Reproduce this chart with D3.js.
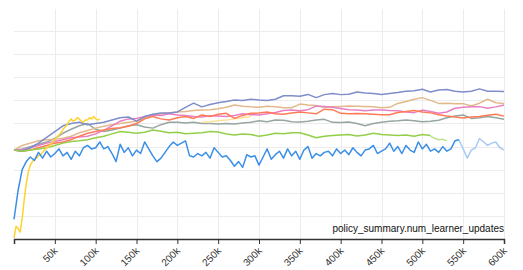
<!DOCTYPE html>
<html>
<head>
<meta charset="utf-8">
<script src="https://cdn.jsdelivr.net/npm/d3@7"></script>
<style>
  body { margin: 0; background: #fff; }
  svg { font-family: "Liberation Sans", Arial, sans-serif; }
</style>
</head>
<body>
<svg width="523" height="270"></svg>
<script>
// x values are in thousands of learner updates, y in arbitrary units (no y labels shown)
var xTicks = [50, 100, 150, 200, 250, 300, 350, 400, 450, 500, 550, 600];
var yTicks = [1, 2, 3, 4, 5, 6, 7, 8, 9];

// blue run, every 5k from 0 to 545k
var blueVals = [0.85, 2.1, 3.0, 3.35, 3.55, 3.4, 3.75, 3.5, 3.8, 3.55,
  3.7, 3.9, 3.6, 3.75, 3.45, 3.8, 3.6, 3.95, 4.05, 3.9,
  3.95, 4.2, 3.9, 4.0, 3.7, 3.35, 4.1, 3.75, 3.95, 3.6,
  3.85, 3.7, 4.2, 3.9, 3.6, 3.35, 3.5, 3.75, 4.0, 4.2,
  4.05, 4.15, 4.25, 3.6, 3.55, 3.7, 3.6, 3.75, 3.5, 3.95,
  3.75, 3.55, 3.6, 3.4, 3.15, 3.35, 3.1, 3.65, 3.55, 3.6,
  3.2, 3.55, 3.9, 3.45, 3.65, 3.8, 3.5, 3.9, 3.6, 3.8,
  3.45, 3.85, 4.0, 3.5, 3.7, 3.6, 3.75, 3.8, 3.6, 3.9,
  3.7, 3.85, 3.65, 3.95, 3.75, 3.6, 3.85, 3.9, 4.05, 3.7,
  3.8, 3.9, 4.15, 3.8, 4.0, 3.7, 4.05, 3.85, 3.75, 4.2,
  3.9, 4.1, 3.8, 3.9, 3.75, 4.0, 3.8, 3.9, 4.25, 4.3];
// light blue run, every 5k from 545k to 600k
var lightBlueVals = [4.28, 3.9, 3.5, 3.85, 3.95, 4.35, 4.2, 4.05, 4.15, 4.2, 3.95, 3.85];

// yellow run, every 2.5k from 0 to 105k
var yellowVals = [0.05, 0.55, 0.45, 0.3, 0.9, 1.7, 2.4, 2.9, 3.2, 3.35,
  3.45, 3.5, 3.6, 3.65, 3.75, 3.85, 3.95, 4.0, 4.1, 4.2,
  4.3, 4.4, 4.5, 4.6, 4.75, 4.85, 4.95, 5.1, 5.2, 5.1,
  5.15, 5.25, 5.2, 5.1, 5.05, 5.15, 5.15, 5.25, 5.2, 5.3,
  5.2, 5.15, 5.2];
// pale yellow run, every 10k from 230k to 290k
var paleYellowVals = [5.05, 5.08, 5.12, 5.15, 5.2, 5.25, 5.3];

// smooth runs, every 10k from 0 to 600k
var purpleVals = [3.85, 3.8, 3.95, 4.15, 4.4, 4.65, 4.9, 5.0, 5.05, 4.95,
  5.0, 5.05, 5.15, 5.25, 5.28, 5.1, 5.3, 5.4, 5.45, 5.45,
  5.5, 5.7, 5.88, 5.72, 5.82, 5.9, 5.95, 6.02, 6.0, 6.05,
  6.02, 6.0, 6.05, 6.2, 6.2, 6.18, 6.26, 6.12, 6.25, 6.3,
  6.25, 6.27, 6.36, 6.32, 6.3, 6.26, 6.3, 6.34, 6.4, 6.42,
  6.48, 6.36, 6.45, 6.47, 6.4, 6.36, 6.4, 6.5, 6.4, 6.4, 6.38];
var tanVals = [3.85, 4.05, 4.15, 4.25, 4.3, 4.32, 4.36, 4.45, 4.6, 4.7,
  4.8, 4.88, 4.95, 5.0, 5.05, 5.1, 5.25, 5.35, 5.42, 5.45,
  5.5, 5.52, 5.56, 5.58, 5.6, 5.64, 5.7, 5.8, 5.75, 5.72,
  5.7, 5.75, 5.72, 5.68, 5.68, 5.84, 5.8, 5.78, 5.7, 5.72,
  5.74, 5.76, 5.75, 5.74, 5.72, 5.68, 5.7, 5.87, 5.95, 6.05,
  6.12, 6.0, 5.87, 5.88, 5.86, 5.86, 5.76, 5.88, 6.05, 5.9, 5.87];
var pinkVals = [3.85, 3.85, 3.95, 4.05, 4.15, 4.22, 4.3, 4.38, 4.42, 4.45,
  4.55, 4.7, 4.9, 5.1, 5.2, 5.22, 5.3, 5.37, 5.35, 5.42,
  5.37, 5.35, 5.3, 5.28, 5.34, 5.32, 5.3, 5.35, 5.42, 5.38,
  5.37, 5.42, 5.48, 5.56, 5.58, 5.55, 5.6, 5.75, 5.74, 5.7,
  5.65, 5.6, 5.58, 5.55, 5.58, 5.58, 5.56, 5.55, 5.5, 5.47,
  5.58, 5.52, 5.44, 5.5, 5.66, 5.7, 5.72, 5.73, 5.66, 5.72, 5.8];
var orangeVals = [3.85, 3.8, 3.85, 3.95, 4.05, 4.15, 4.2, 4.3, 4.45, 4.58,
  4.65, 4.72, 4.78, 4.82, 4.88, 5.0, 5.2, 5.3, 5.2, 5.15,
  5.25, 5.3, 5.22, 5.37, 5.3, 5.4, 5.44, 5.22, 5.35, 5.44,
  5.45, 5.5, 5.42, 5.4, 5.45, 5.5, 5.46, 5.42, 5.62, 5.6,
  5.44, 5.42, 5.43, 5.42, 5.4, 5.38, 5.38, 5.48, 5.52, 5.56,
  5.5, 5.46, 5.38, 5.32, 5.28, 5.24, 5.28, 5.3, 5.36, 5.4, 5.32];
var grayVals = [3.85, 3.9, 4.0, 4.1, 4.2, 4.35, 4.58, 4.75, 4.9, 5.0,
  4.75, 4.65, 4.72, 4.8, 4.9, 4.95, 4.85, 4.8, 4.95, 5.05,
  5.05, 5.02, 5.05, 5.0, 5.0, 4.98, 5.0, 4.98, 5.02, 5.05,
  5.12, 5.08, 5.15, 5.14, 5.08, 5.06, 5.1, 5.15, 5.18, 5.05,
  5.04, 5.06, 5.0, 4.9, 5.0, 5.05, 5.1, 5.12, 5.15, 5.12,
  5.08, 5.1, 5.14, 5.25, 5.32, 5.37, 5.22, 5.25, 5.3, 5.25, 5.18];
// green run, every 10k from 0 to 510k
var greenVals = [3.85, 3.8, 3.85, 3.9, 3.95, 4.05, 4.15, 4.22, 4.25, 4.3,
  4.38, 4.45, 4.55, 4.65, 4.62, 4.58, 4.62, 4.72, 4.66, 4.6,
  4.62, 4.56, 4.58, 4.6, 4.65, 4.63, 4.55, 4.5, 4.55, 4.52,
  4.45, 4.5, 4.58, 4.56, 4.6, 4.6, 4.5, 4.38, 4.45, 4.48,
  4.5, 4.52, 4.46, 4.5, 4.58, 4.52, 4.5, 4.48, 4.5, 4.45,
  4.52, 4.48];
// light green run, every 5k from 510k to 530k
var lightGreenVals = [4.45, 4.36, 4.3, 4.32, 4.25];

var runs = [
  { color: "#97a69f", start: 0, step: 10, values: grayVals },
  { color: "#ffe29a", start: 230, step: 10, values: paleYellowVals },
  { color: "#e3b98c", start: 0, step: 10, values: tanVals },
  { color: "#e77fc4", start: 0, step: 10, values: pinkVals },
  { color: "#ff7b56", start: 0, step: 10, values: orangeVals },
  { color: "#7f8dc9", start: 0, step: 10, values: purpleVals },
  { color: "#bde38f", start: 510, step: 5, values: lightGreenVals },
  { color: "#93cf48", start: 0, step: 10, values: greenVals },
  { color: "#ffd22e", start: 0, step: 2.5, values: yellowVals },
  { color: "#a7cbf2", start: 545, step: 5, values: lightBlueVals },
  { color: "#3b8fe6", start: 0, step: 5, values: blueVals }
];

var svg = d3.select("svg");
var margin = { top: 9, right: 19, bottom: 31, left: 14 };
var width = +svg.attr("width") - margin.left - margin.right;
var height = +svg.attr("height") - margin.top - margin.bottom;

var g = svg.append("g")
  .attr("transform", "translate(" + margin.left + "," + margin.top + ")");

var x = d3.scaleLinear().domain([0, 600]).range([0, width]);
var y = d3.scaleLinear().domain([0, 230 / 23.1]).range([height, 0]);

// grid
g.append("g")
  .selectAll("line.h")
  .data(yTicks)
  .enter()
  .append("line")
  .attr("x1", 0)
  .attr("x2", width)
  .attr("y1", (d) => Math.round(y(d)) + 0.5)
  .attr("y2", (d) => Math.round(y(d)) + 0.5)
  .style("stroke", "#ececec");

g.append("g")
  .selectAll("line.v")
  .data(xTicks)
  .enter()
  .append("line")
  .attr("x1", (d) => Math.round(x(d)) + 0.5)
  .attr("x2", (d) => Math.round(x(d)) + 0.5)
  .attr("y1", 0)
  .attr("y2", height)
  .style("stroke", "#ececec");

// lines
var line = d3.line()
  .x((d) => x(d[0]))
  .y((d) => y(d[1]));

g.append("g")
  .selectAll("path")
  .data(runs)
  .enter()
  .append("path")
  .attr("d", (r) => line(r.values.map((v, i) => [r.start + i * r.step, v])))
  .style("fill", "none")
  .style("stroke", (r) => r.color)
  .style("stroke-width", 1.5)
  .style("stroke-linejoin", "round");

// x axis
var xAxis = g.append("g")
  .attr("transform", "translate(0," + height + ")")
  .call(d3.axisBottom(x).tickValues(xTicks).tickFormat((d) => d + "k").tickSizeOuter(5).tickSize(5));

xAxis.select(".domain").attr("stroke", "#333").attr("stroke-width", 1.5);
xAxis.selectAll(".tick line").attr("stroke", "#333");
xAxis.selectAll("text")
  .style("font-size", "10px")
  .style("fill", "#333")
  .style("text-anchor", "end")
  .attr("x", 0)
  .attr("y", 0)
  .attr("dy", 0)
  .attr("transform", "translate(3,12.5) rotate(-45)");

svg.append("text")
  .attr("x", margin.left + width)
  .attr("y", 232)
  .style("text-anchor", "end")
  .style("font-size", "10px")
  .style("fill", "#111")
  .text("policy_summary.num_learner_updates");
</script>
</body>
</html>
